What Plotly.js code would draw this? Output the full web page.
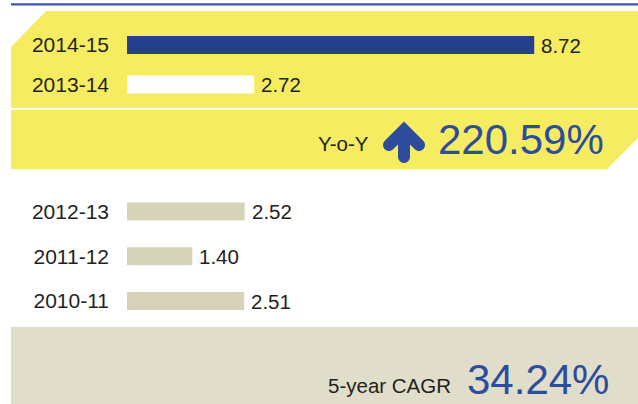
<!DOCTYPE html>
<html>
<head>
<meta charset="utf-8">
<script src="https://cdn.plot.ly/plotly-3.0.1.min.js"></script>
<style>
html,body{margin:0;padding:0;background:#fff;}
#chart{width:638px;height:404px;}
</style>
</head>
<body>
<div id="chart"></div>
<script>
// ---- data ----
const topYears = ['2014-15', '2013-14'];
const topValues = [8.72, 2.72];
const bottomYears = ['2012-13', '2011-12', '2010-11'];
const bottomValues = [2.52, 1.40, 2.51];
const yoyLabel = 'Y-o-Y';
const yoyValue = '220.59%';
const cagrLabel = '5-year CAGR';
const cagrValue = '34.24%';

// ---- styles ----
const W = 638, H = 404;
const FONT = 'Liberation Sans, Arial, sans-serif';
const TXT = '#231F20';
const BLUE = '#26408E';
const BIGBLUE = '#2E4C9C';
const YELLOW = '#F6EC62';
const BEIGE_BAR = '#D7D3BA';
const BEIGE_PANEL = '#E0DECA';
const topColors = [BLUE, '#FFFFFF'];

// px -> paper helpers
const px = x => x / W;
const py = y => 1 - y / H;
function poly(points) {
  return 'M' + points.map(p => px(p[0]).toFixed(5) + ',' + py(p[1]).toFixed(5)).join(' L') + ' Z';
}
function capPts(cx, cy, r, a0, a1, n) {
  const out = [];
  for (let i = 0; i <= n; i++) {
    const a = a0 + (a1 - a0) * i / n;
    out.push([cx + r * Math.cos(a), cy + r * Math.sin(a)]);
  }
  return out;
}

// arrow geometry (decorative, screen px, y down)
const ax = 404, apexY = 130, half = 6, armLen = 15, shaftBot = 157;
const s2 = Math.SQRT2;
const tip = [ax, apexY - half * s2];
const lEnd = [ax - armLen, apexY + armLen];
const rEnd = [ax + armLen, apexY + armLen];
const junctionY = apexY + half * s2 + half;
let arrow = [tip];
arrow = arrow.concat(capPts(lEnd[0], lEnd[1], half, -3 * Math.PI / 4, -7 * Math.PI / 4, 10));
arrow.push([ax - half, junctionY]);
arrow = arrow.concat(capPts(ax, shaftBot, half, Math.PI, 0, 10));
arrow.push([ax + half, junctionY]);
arrow = arrow.concat(capPts(rEnd[0], rEnd[1], half, 3 * Math.PI / 4, -Math.PI / 4, 10));

const shapes = [
  {type: 'rect', xref: 'paper', yref: 'paper', x0: px(11), x1: px(638), y0: py(3.3), y1: py(5.6),
   fillcolor: '#3C56A6', line: {width: 0}, layer: 'below'},
  {type: 'path', xref: 'paper', yref: 'paper', path: poly([[11, 47], [46, 11], [638, 11], [638, 108], [11, 108]]),
   fillcolor: YELLOW, line: {width: 0}, layer: 'below'},
  {type: 'path', xref: 'paper', yref: 'paper', path: poly([[11, 110], [638, 110], [638, 138], [607, 169], [11, 169]]),
   fillcolor: YELLOW, line: {width: 0}, layer: 'below'},
  {type: 'rect', xref: 'paper', yref: 'paper', x0: px(11), x1: px(638), y0: py(327), y1: 0,
   fillcolor: BEIGE_PANEL, line: {width: 0}, layer: 'below'},
  {type: 'path', xref: 'paper', yref: 'paper', path: poly(arrow), fillcolor: BIGBLUE, line: {width: 0}, layer: 'above'}
];

const traces = [
  {type: 'bar', orientation: 'h', x: topValues, y: topYears, xaxis: 'x', yaxis: 'y',
   marker: {color: topColors, line: {width: 0}}, width: 0.456, hoverinfo: 'skip'},
  {type: 'bar', orientation: 'h', x: bottomValues, y: bottomYears, xaxis: 'x', yaxis: 'y2',
   marker: {color: BEIGE_BAR, line: {width: 0}}, width: 0.402, hoverinfo: 'skip'}
];

const annotations = [];
topYears.forEach((c, i) => annotations.push({
  xref: 'x', yref: 'y', x: topValues[i], y: c, text: topValues[i].toFixed(2),
  xanchor: 'left', yanchor: 'middle', xshift: 5, showarrow: false,
  font: {family: FONT, size: 20.5, color: TXT}
}));
bottomYears.forEach((c, i) => annotations.push({
  xref: 'x', yref: 'y2', x: bottomValues[i], y: c, text: bottomValues[i].toFixed(2),
  xanchor: 'left', yanchor: 'middle', xshift: 5, showarrow: false,
  font: {family: FONT, size: 20.5, color: TXT}
}));
annotations.push(
  {xref: 'paper', yref: 'paper', x: px(371), y: py(143.5), text: yoyLabel, xanchor: 'right', yanchor: 'middle',
   showarrow: false, font: {family: FONT, size: 20.5, color: TXT}},
  {xref: 'paper', yref: 'paper', x: px(436), y: py(139.5), text: yoyValue, xanchor: 'left', yanchor: 'middle',
   showarrow: false, font: {family: FONT, size: 42, color: BIGBLUE}},
  {xref: 'paper', yref: 'paper', x: px(326), y: py(385.5), text: cagrLabel, xanchor: 'left', yanchor: 'middle',
   showarrow: false, font: {family: FONT, size: 20.5, color: TXT}},
  {xref: 'paper', yref: 'paper', x: px(465), y: py(379), text: cagrValue, xanchor: 'left', yanchor: 'middle',
   showarrow: false, font: {family: FONT, size: 42, color: BIGBLUE}}
);

const scale = 46.7; // px per unit
const yTick = {family: FONT, size: 21, color: TXT};
const layout = {
  width: W, height: H,
  margin: {l: 0, r: 0, t: 0, b: 0, pad: 0},
  paper_bgcolor: '#FFFFFF', plot_bgcolor: 'rgba(0,0,0,0)',
  showlegend: false,
  font: {family: FONT, size: 20, color: TXT},
  xaxis: {domain: [px(127), 1], range: [0, (W - 127) / scale], visible: false, fixedrange: true},
  yaxis: {domain: [py(104.25), py(25.25)], type: 'category', autorange: 'reversed', anchor: 'x',
          showgrid: false, zeroline: false, showline: false, ticks: '', ticklabelstandoff: 17,
          tickfont: yTick, fixedrange: true},
  yaxis2: {domain: [py(323.4), py(189.1)], type: 'category', autorange: 'reversed', anchor: 'x',
           showgrid: false, zeroline: false, showline: false, ticks: '', ticklabelstandoff: 17,
           tickfont: yTick, fixedrange: true},
  shapes: shapes,
  annotations: annotations
};

Plotly.newPlot('chart', traces, layout, {staticPlot: true, displayModeBar: false});
</script>
</body>
</html>
